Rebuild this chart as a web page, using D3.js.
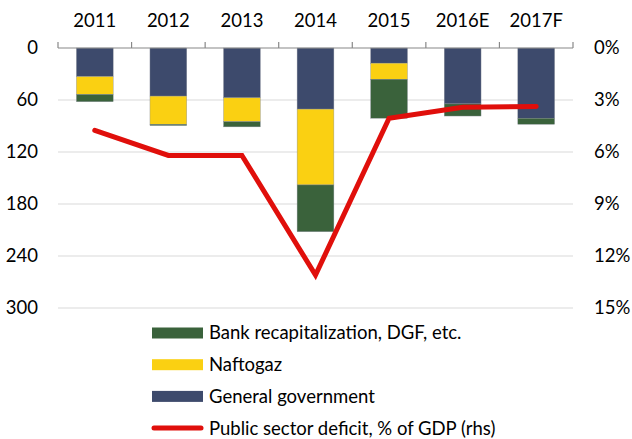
<!DOCTYPE html>
<html>
<head>
<meta charset="utf-8">
<script src="https://cdn.jsdelivr.net/npm/d3@7"></script>
<style>
  body { margin: 0; background: #fff; }
  text { font-family: Lato, "Open Sans", sans-serif; fill: #000; }
</style>
</head>
<body>
<div id="chart"></div>
<script>
const years = ["2011", "2012", "2013", "2014", "2015", "2016E", "2017F"];
const generalGov = [33, 55.5, 57.5, 70.5, 17.5, 64.5, 81];
const naftogaz = [20.5, 32.5, 27.5, 87.5, 18.5, 0, 0];
const bankRecap = [8.5, 1.5, 6, 54, 45, 14, 7];
const deficit = [4.75, 6.2, 6.2, 13.1, 4.05, 3.42, 3.38];
const leftTicks = [0, 60, 120, 180, 240, 300];
const rightTicks = [0, 3, 6, 9, 12, 15];

const W = 632, H = 439;
const margin = { top: 48, left: 58, right: 59, bottom: 131 };
const plotW = W - margin.left - margin.right;
const plotH = H - margin.top - margin.bottom;
const fs = "18.5px";

const svg = d3.select("#chart").append("svg")
  .attr("width", W).attr("height", H);

const g = svg.append("g").attr("transform", `translate(${margin.left},${margin.top})`);

const x = d3.scaleBand().domain(years).range([0, plotW]).paddingInner(0).paddingOuter(0);
const y = d3.scaleLinear().domain([0, 300]).range([0, plotH]);
const y2 = d3.scaleLinear().domain([0, 15]).range([0, plotH]);

// gridlines
g.selectAll(".grid").data(leftTicks.slice(1)).join("line")
  .attr("x1", 0).attr("x2", plotW)
  .attr("y1", d => y(d)).attr("y2", d => y(d))
  .attr("stroke", "#d9d9d9").attr("stroke-width", 1);

// stacked bars
const series = [
  { name: "General government", values: generalGov, color: "#3d4a6c" },
  { name: "Naftogaz", values: naftogaz, color: "#fad012" },
  { name: "Bank recapitalization, DGF, etc.", values: bankRecap, color: "#3a623b" }
];
const barW = x.bandwidth() * 0.5;
years.forEach((yr, i) => {
  let acc = 0;
  series.forEach(s => {
    const v = s.values[i];
    if (v > 0) {
      g.append("rect")
        .attr("x", x(yr) + (x.bandwidth() - barW) / 2)
        .attr("y", y(acc))
        .attr("width", barW)
        .attr("height", y(acc + v) - y(acc))
        .attr("fill", s.color)
        .attr("stroke", "#8a8f99").attr("stroke-width", 0.4);
    }
    acc += v;
  });
});

// top category axis
const catAxis = g.append("g");
catAxis.append("line").attr("x1", 0).attr("x2", plotW).attr("y1", 0).attr("y2", 0)
  .attr("stroke", "#888").attr("stroke-width", 1.2);
catAxis.selectAll(".tk").data(d3.range(years.length + 1)).join("line")
  .attr("x1", d => d * x.step()).attr("x2", d => d * x.step())
  .attr("y1", 0).attr("y2", -6)
  .attr("stroke", "#888").attr("stroke-width", 1.2);
catAxis.selectAll(".yl").data(years).join("text")
  .attr("x", d => x(d) + x.bandwidth() / 2)
  .attr("y", -27)
  .attr("dy", "0.35em")
  .attr("text-anchor", "middle")
  .style("font-size", fs)
  .text(d => d);

// left axis labels
g.selectAll(".ll").data(leftTicks).join("text")
  .attr("x", -20).attr("y", d => y(d)).attr("dy", "0.35em")
  .attr("text-anchor", "end").style("font-size", fs)
  .text(d => d);

// right axis labels
g.selectAll(".rl").data(rightTicks).join("text")
  .attr("x", plotW + 21).attr("y", d => y2(d)).attr("dy", "0.35em")
  .attr("text-anchor", "start").style("font-size", fs)
  .text(d => d + "%");

// deficit line
const line = d3.line()
  .x((d, i) => x(years[i]) + x.bandwidth() / 2)
  .y(d => y2(d));
g.append("path").datum(deficit)
  .attr("d", line)
  .attr("fill", "none")
  .attr("stroke", "#e00f0b")
  .attr("stroke-width", 5)
  .attr("stroke-linecap", "round")
  .attr("stroke-linejoin", "miter");

// legend
const legend = svg.append("g").attr("transform", "translate(152,333)");
const legItems = [
  { label: "Bank recapitalization, DGF, etc.", color: "#3a623b", type: "rect" },
  { label: "Naftogaz", color: "#fad012", type: "rect" },
  { label: "General government", color: "#3d4a6c", type: "rect" },
  { label: "Public sector deficit, % of GDP (rhs)", color: "#e00f0b", type: "line" }
];
legItems.forEach((d, i) => {
  const row = legend.append("g").attr("transform", `translate(0,${i * 31.7})`);
  if (d.type === "rect") {
    row.append("rect").attr("x", 0).attr("y", -5.5).attr("width", 51).attr("height", 11)
      .attr("fill", d.color);
  } else {
    row.append("line").attr("x1", 2).attr("x2", 49).attr("y1", 0).attr("y2", 0)
      .attr("stroke", d.color).attr("stroke-width", 5).attr("stroke-linecap", "round");
  }
  row.append("text").attr("x", 57).attr("y", 0).attr("dy", "0.35em")
    .style("font-size", fs).text(d.label);
});
</script>
</body>
</html>
